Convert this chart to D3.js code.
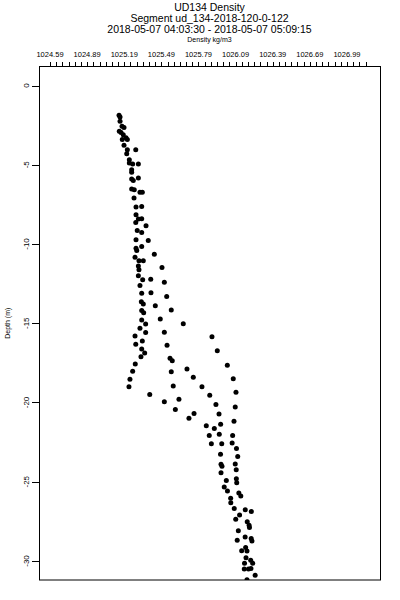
<!DOCTYPE html>
<html><head><meta charset="utf-8">
<script src="https://cdn.jsdelivr.net/npm/d3@7"></script>
<style>body{margin:0;background:#fff;} svg{display:block;} text{font-family:"Liberation Sans",Arial,Helvetica,sans-serif;fill:#000;}</style>
</head><body>
<svg id="chart" width="400" height="600"></svg>
<script>
const titleLines = ["UD134 Density", "Segment ud_134-2018-120-0-122", "2018-05-07 04:03:30 - 2018-05-07 05:09:15"];
const xLabel = "Density kg/m3";
const yLabel = "Depth (m)";
const xTickLabels = ["1024.59","1024.89","1025.19","1025.49","1025.79","1026.09","1026.39","1026.69","1026.99"];
const yTicks = [0,-5,-10,-15,-20,-25,-30];
const density = [
1025.148,1025.156,1025.156,1025.172,1025.188,1025.150,1025.164,1025.182,1025.174,1025.215,1025.204,1025.188,
1025.215,1025.283,1025.210,1025.231,1025.231,1025.258,1025.304,1025.250,1025.250,1025.250,1025.304,1025.263,
1025.250,1025.271,1025.317,1025.336,1025.269,1025.285,1025.331,1025.285,1025.304,1025.331,1025.283,1025.366,
1025.295,1025.331,1025.285,1025.384,1025.331,1025.285,1025.291,1025.433,1025.277,1025.309,1025.344,1025.304,
1025.495,1025.309,1025.304,1025.339,1025.404,1025.514,1025.317,1025.331,1025.406,1025.533,
1025.328,1025.344,1025.441,1025.570,1025.331,1025.347,1025.331,1025.481,1025.363,1025.667,1025.317,1025.363,
1025.514,1025.277,1025.899,1025.336,1025.283,1025.536,1025.331,1025.355,1025.942,1025.325,1025.560,1025.578,
1026.023,1025.279,1025.697,1025.258,1025.570,1025.748,1026.071,1025.236,1025.228,1025.586,1025.818,1026.093,
1025.396,1025.881,1025.632,1025.514,1025.931,1026.087,1025.603,1025.956,1025.754,1025.713,1026.077,1025.969,
1025.853,1025.918,1025.877,1025.958,1026.066,
1025.894,1025.978,1026.062,1026.097,1025.968,1026.107,1025.972,1026.087,1025.980,1026.095,1025.972,1026.096,
1026.015,1026.099,1025.998,1026.024,1026.116,1026.132,1026.050,1026.051,1026.079,1026.168,1026.217,1026.122,
1026.091,1026.184,1026.199,1026.202,1026.112,1026.167,1026.216,1026.103,1026.222,1026.171,1026.139,1026.182,
1026.174,1026.212,1026.162,1026.228,1026.160,1026.194,1026.214,1026.248,1026.182
];
const depth = [
-1.88,-1.99,-2.26,-2.57,-2.65,-2.89,-2.97,-3.10,-3.41,-3.41,-3.29,-3.77,
-4.05,-4.06,-4.30,-4.68,-4.89,-4.95,-4.95,-5.31,-5.48,-5.90,-5.83,-5.99,
-6.53,-6.57,-6.74,-6.74,-7.10,-7.67,-7.63,-8.15,-8.43,-8.41,-8.64,-8.85,
-9.15,-9.27,-9.73,-9.78,-10.16,-10.26,-10.41,-10.64,-10.83,-11.06,-11.06,-11.38,
-11.49,-11.63,-12.01,-12.26,-12.22,-12.41,-12.62,-13.10,-13.07,-13.32,
-13.65,-13.78,-13.89,-14.16,-14.20,-14.33,-14.79,-14.73,-15.04,-15.03,-15.32,-15.59,
-15.57,-15.80,-15.85,-16.12,-16.33,-16.39,-16.62,-16.88,-16.73,-17.11,-17.21,-17.36,
-17.65,-17.57,-17.89,-18.03,-18.06,-18.41,-18.50,-18.54,-19.01,-18.96,-19.01,-19.36,
-19.49,-19.55,-19.80,-19.96,-20.12,-20.29,-20.44,-20.73,-20.69,-20.99,-21.18,-21.37,
-21.47,-21.64,-22.08,-22.00,-22.08,
-22.61,-22.60,-22.55,-22.91,-23.26,-23.40,-23.89,-23.88,-24.02,-24.24,-24.43,-24.81,
-24.92,-25.06,-25.33,-25.58,-25.71,-25.90,-26.04,-26.33,-26.69,-26.77,-26.88,-27.10,
-27.37,-27.53,-27.75,-27.89,-28.10,-28.48,-28.58,-28.69,-28.74,-29.15,-29.36,-29.37,
-29.79,-29.96,-30.15,-30.15,-30.51,-30.50,-30.47,-30.90,-31.18
];

const svg = d3.select("#chart");
const L = 39, R = 380, T = 66.5, B = 580;
const x = d3.scaleLinear().domain([1024.501, 1027.257]).range([L, R]);
const y = d3.scaleLinear().domain([-31.2, 1.2]).range([B, T]);
const cx = (L + R) / 2;

// titles
const tBase = [11, 21.5, 33];
titleLines.forEach((t, i) => {
  svg.append("text").attr("x", cx).attr("y", tBase[i]).attr("text-anchor", "middle")
    .attr("font-size", 10.5).text(t);
});
svg.append("text").attr("x", cx).attr("y", 41.5).attr("text-anchor", "middle")
  .attr("font-size", 7).text(xLabel);

// clip
svg.append("defs").append("clipPath").attr("id", "clip")
  .append("rect").attr("x", L).attr("y", T).attr("width", R - L).attr("height", B - T);

// top axis: minor ticks every 0.05, labels every 0.3
const minorTicks = d3.range(0, 52).map(k => 1024.59 + 0.05 * k);
const labelVals = xTickLabels.map(Number);
const xAxis = d3.axisTop(x).tickValues(minorTicks).tickSize(4).tickFormat("");
const gx = svg.append("g").attr("transform", `translate(0,${T - 0.5})`).call(xAxis);
gx.select(".domain").remove();
gx.selectAll("line").attr("stroke", "#000").attr("shape-rendering", "crispEdges");
svg.append("g").selectAll("text").data(labelVals).join("text")
  .attr("x", d => x(d)).attr("y", 57.3).attr("text-anchor", "middle")
  .attr("font-size", 7.5).text((d, i) => xTickLabels[i]);

// left axis
const yAxis = d3.axisLeft(y).tickValues(yTicks).tickSize(7).tickFormat("");
const gy = svg.append("g").attr("transform", `translate(${L},0)`).call(yAxis);
gy.select(".domain").remove();
gy.selectAll("line").attr("stroke", "#000").attr("shape-rendering", "crispEdges");
svg.append("g").selectAll("text").data(yTicks).join("text")
  .attr("transform", d => `translate(28.5,${y(d)}) rotate(-90)`)
  .attr("text-anchor", "middle").attr("font-size", 8).text(d => d);
svg.append("text").attr("transform", `translate(9.5,${(T + B) / 2}) rotate(-90)`)
  .attr("text-anchor", "middle").attr("font-size", 7).text(yLabel);

// box
svg.append("rect").attr("x", L + 0.5).attr("y", T).attr("width", R - L).attr("height", B - T)
  .attr("fill", "none").attr("stroke", "#000").attr("stroke-width", 1);

// points
const pts = density.map((v, i) => ({v, d: depth[i]}));
svg.append("g").attr("clip-path", "url(#clip)").selectAll("circle").data(pts).join("circle")
  .attr("cx", p => x(p.v)).attr("cy", p => y(p.d)).attr("r", 2.5).attr("fill", "#000");
</script>
</body></html>
